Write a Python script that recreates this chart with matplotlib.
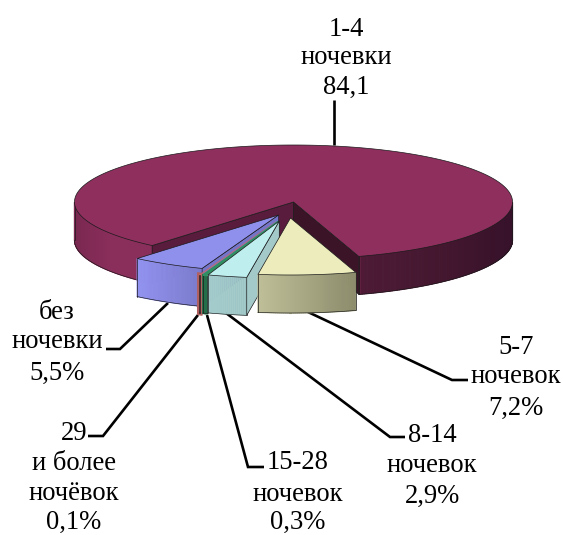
import numpy as np
import matplotlib
matplotlib.use("Agg")
import matplotlib.pyplot as plt
from matplotlib.patches import Polygon
from matplotlib.colors import to_rgb

# ---- data
categories = ["1-4\nночевки\n84,1", "5-7\nночевок\n7,2%", "8-14\nночевок\n2,9%",
              "15-28\nночевок\n0,3%", "29\nи более\nночёвок\n0,1%", "без\nночевки\n5,5%"]
values = [84.1, 7.2, 2.9, 0.3, 0.1, 5.5]

# ---- style / layout
top_colors = ["#8E2F5E", "#ECECBC", "#BEEEEE", "#2F8F60", "#C86A6A", "#8F8FEC"]
# side colour ramps: (x position, colour) stops along the outer wall
side_stops = [
    [(75, "#7A2851"), (110, "#8A2E5B"), (153, "#8A2E5B"), (359, "#8A2E5B"),
     (360, "#4E1A36"), (440, "#44172F"), (512, "#36122A")],
    [(259, "#BEBE98"), (356, "#8C8C6C")],
    [(208, "#A4CCCC"), (247, "#9CC4C4")],
    [(200, "#256E4A"), (210, "#256E4A")],
    [(195, "#B06060"), (205, "#B06060")],
    [(138, "#9292F0"), (203, "#7A7ACB")],
]
strip_lw = [0.3, 0.3, 0.3, 1.5, 3.2, 0.3]
top_strip_lw = [0.5, 0.5, 0.5, 1.3, 0.2, 0.5]
offsets = [(0, 0), (-3, 16), (-14.2, 19), (-15.3, 19.5), (-17.9, 19.5), (-15, 13)]
draw_order = [0, 5, 4, 3, 2, 1]
CX, CY, A, B, DEPTH = 293.5, 202, 219, 57, 38
START = 229.8
EDGE = "#1a1a1a"

fig = plt.figure(figsize=(5.63, 5.35), dpi=100)
ax = fig.add_axes([0, 0, 1, 1])
ax.set_xlim(0, 563)
ax.set_ylim(535, 0)
ax.axis("off")


def pt(c, deg):
    t = np.radians(deg)
    return np.column_stack([c[0] + A * np.cos(t), c[1] - B * np.sin(t)])


def shade(i, x):
    xs = [s[0] for s in side_stops[i]]
    rgb = np.array([to_rgb(s[1]) for s in side_stops[i]])
    return tuple(np.interp(x, xs, rgb[:, k]) for k in range(3))


bounds = START - np.cumsum([0] + values) * 360 / sum(values)
down = np.array([0, DEPTH])

for rank, i in enumerate(draw_order):
    a0, a1 = bounds[i], bounds[i + 1]
    z = 2 + rank
    c = np.array([CX + offsets[i][0], CY + offsets[i][1]])
    n = max(int(abs(a1 - a0) * 2), 4)
    th = np.linspace(a0, a1, n)
    arc = pt(c, th)
    visible = ((th + 180) % 360 - 180) <= 0
    idx = np.where(visible)[0]
    for seg in np.split(idx, np.where(np.diff(idx) != 1)[0] + 1):
        if len(seg) < 2:
            continue
        for k in range(len(seg) - 1):
            p, q = arc[seg[k]], arc[seg[k + 1]]
            col = shade(i, 0.5 * (p[0] + q[0]))
            ax.add_patch(Polygon([p, q, q + down, p + down], closed=True, fc=col, ec=col,
                                 lw=max(strip_lw[i], 0.8 if i in (0, 1, 5) else 0), zorder=z))
        ax.plot(arc[seg, 0], arc[seg, 1] + DEPTH, color=EDGE, lw=0.45, zorder=z + 0.2)
        for e in (seg[0], seg[-1]):
            ax.plot([arc[e, 0]] * 2, [arc[e, 1], arc[e, 1] + DEPTH], color=EDGE, lw=0.5, zorder=z + 0.2)
    # radial walls facing the viewer
    if i == 0:
        for end, col in ((arc[0], "#5A1C3C"), (arc[-1], "#3C1428")):
            ax.add_patch(Polygon([c, end, end + down, c + down], closed=True,
                                 fc=col, ec=EDGE, lw=0.5, zorder=z + 0.3))
    if i == 2:
        ax.add_patch(Polygon([c, arc[0], arc[0] + down, c + down], closed=True,
                             fc="#A3C9C9", ec=EDGE, lw=0.5, zorder=z + 0.3))
    if i == 5:
        ax.add_patch(Polygon([c, arc[0], arc[0] + down, c + down], closed=True,
                             fc="#7474C8", ec=EDGE, lw=0.4, zorder=z + 0.3))
    ec = EDGE if strip_lw[i] < 1 else top_colors[i]
    ax.add_patch(Polygon(np.vstack([c, arc]), closed=True, fc=top_colors[i],
                         ec=ec, lw=top_strip_lw[i], zorder=z + 0.5))

# ---- leader lines
leaders = [
    [(334, 145), (334, 100)],
    [(308, 312), (452, 380), (468, 380)],
    [(226, 313), (390, 437), (405, 437)],
    [(207, 315), (248, 467), (264, 467)],
    [(198, 315), (103, 436), (88, 436)],
    [(168, 303), (120, 349), (106, 349)],
]
for l in leaders:
    xy = np.array(l)
    ax.plot(xy[:, 0], xy[:, 1], color="black", lw=1.9, zorder=1,
            solid_capstyle="butt", solid_joinstyle="miter")

# ---- labels (x centre, text baselines)
label_pos = [
    (346, [36, 64.5, 94]),
    (516, [354, 383, 415]),
    (432, [442, 472, 503]),
    (298, [469, 501, 529]),
    (74, [440, 470, 500, 529]),
    (57, [319, 348, 380]),
]
for cat, (x, ys) in zip(categories, label_pos):
    for line, y in zip(cat.split("\n"), ys):
        ax.text(x, y, line, ha="center", va="baseline", fontsize=19.2,
                family="Liberation Serif", color="black")

fig.savefig("out.png", dpi=100)
